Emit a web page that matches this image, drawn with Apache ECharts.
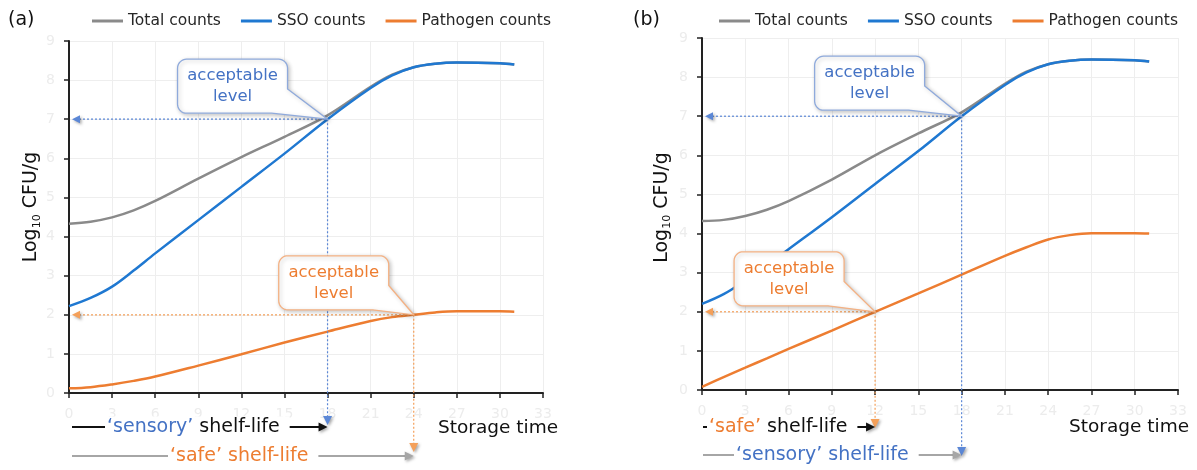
<!DOCTYPE html>
<html><head><meta charset="utf-8">
<script src="https://cdn.jsdelivr.net/npm/echarts@6/dist/echarts.min.js"></script>
<style>html,body{margin:0;padding:0;background:#fff}#c{width:1197px;height:470px}</style>
</head><body><div id="c"></div>
<script>
// ---- data ----
const days = [0, 1.5, 3, 4.5, 6, 9, 12, 15, 18, 21, 22.5, 24, 25.5, 27, 30, 31];
const totalA    = [4.33, 4.38, 4.49, 4.67, 4.91, 5.48, 6.03, 6.55, 7.10, 7.83, 8.14, 8.33, 8.42, 8.45, 8.43, 8.40];
const ssoA      = [2.22, 2.43, 2.72, 3.13, 3.57, 4.42, 5.27, 6.12, 7.00, 7.80, 8.12, 8.33, 8.42, 8.45, 8.43, 8.40];
const pathogenA = [0.12, 0.15, 0.22, 0.31, 0.42, 0.70, 0.99, 1.29, 1.57, 1.84, 1.94, 2.00, 2.06, 2.09, 2.09, 2.08];
const totalB    = [4.32, 4.35, 4.45, 4.61, 4.83, 5.38, 6.00, 6.56, 7.10, 7.83, 8.14, 8.33, 8.42, 8.45, 8.43, 8.40];
const ssoB      = [2.20, 2.45, 2.80, 3.19, 3.60, 4.42, 5.27, 6.11, 7.00, 7.80, 8.12, 8.33, 8.42, 8.45, 8.43, 8.40];
const pathogenB = [0.08, 0.33, 0.57, 0.81, 1.05, 1.52, 2.00, 2.47, 2.95, 3.43, 3.65, 3.85, 3.96, 4.01, 4.01, 4.00];
const seriesNames = ['Total counts', 'SSO counts', 'Pathogen counts'];
// acceptable-level points [day, log10 CFU/g]
const sensoryA = [18, 7];
const safeA    = [24, 2];
const safeB    = [12, 2];
const sensoryB = [18, 7];
const xMin = 0, xMax = 33, xStep = 3;
const yMin = 0, yMax = 9, yStep = 1;

// ---- style ----
const FONT = "'DejaVu Sans', sans-serif";
const C_GRAY = '#8a8a8a', C_BLUE = '#1f78d1', C_ORANGE = '#ed7d31';
const T_BLUE = '#4472c4', T_ORANGE = '#ed7d31';
const D_BLUE = '#5b87d6', D_ORANGE = '#f4a05a';

const chart = echarts.init(document.getElementById('c'), null, {renderer: 'canvas'});
const zip = arr => days.map((d, i) => [d, arr[i]]);

function xAxis(g) {
  return {
    type: 'value', gridIndex: g, min: xMin, max: xMax, interval: xStep,
    axisLine: {show: true, lineStyle: {color: '#222', width: 2}},
    axisTick: {show: true, length: 5, lineStyle: {color: '#222', width: 1.5}},
    axisLabel: {color: '#ececec', fontSize: 14, margin: 14, fontFamily: FONT},
    splitLine: {show: true, lineStyle: {color: '#eeeeee', width: 1}}
  };
}
function yAxis(g, gap, shift) {
  return {
    type: 'value', gridIndex: g, min: yMin, max: yMax, interval: yStep,
    name: '{m|Log}{s|10}{m| CFU/g}', nameLocation: 'middle', nameGap: gap, nameRotate: 90,
    nameTextStyle: {
      padding: [0, 0, 0, shift],
      rich: {
        m: {fontSize: 19, color: '#111', fontFamily: FONT, lineHeight: 22},
        s: {fontSize: 11, color: '#111', fontFamily: FONT, verticalAlign: 'bottom', lineHeight: 11}
      }
    },
    axisLine: {show: true, lineStyle: {color: '#222', width: 2}},
    axisTick: {show: true, length: 5, lineStyle: {color: '#222', width: 1.5}},
    axisLabel: {color: '#ececec', fontSize: 14, margin: 14, fontFamily: FONT},
    splitLine: {show: true, lineStyle: {color: '#eeeeee', width: 1}}
  };
}
function line(name, data, color, g) {
  return {
    name, type: 'line', xAxisIndex: g, yAxisIndex: g, data: zip(data),
    smooth: 0.35, symbol: 'none', lineStyle: {color, width: 2.5}, itemStyle: {color},
    z: 5
  };
}
function legend(left) {
  return {
    left, top: 13, padding: 0, itemWidth: 31, itemHeight: 3, itemGap: 20, icon: 'rect',
    textStyle: {fontSize: 15.5, fontFamily: FONT, color: '#262626'},
    data: seriesNames
  };
}

chart.setOption({
  animation: false,
  backgroundColor: '#fff',
  legend: [legend(92), legend(719)],
  grid: [
    {left: 69, right: 654, top: 41, bottom: 77},
    {left: 702, right: 19, top: 38, bottom: 80}
  ],
  xAxis: [xAxis(0), xAxis(1)],
  yAxis: [yAxis(0, 26, 20), yAxis(1, 29, 13)],
  series: [
    line(seriesNames[0], totalA, C_GRAY, 0),
    line(seriesNames[1], ssoA, C_BLUE, 0),
    line(seriesNames[2], pathogenA, C_ORANGE, 0),
    line(seriesNames[0], totalB, C_GRAY, 1),
    line(seriesNames[1], ssoB, C_BLUE, 1),
    line(seriesNames[2], pathogenB, C_ORANGE, 1)
  ]
});

// ---- annotations, positioned through the chart's own scales ----
const px = (g, pt) => chart.convertToPixel({gridIndex: g}, pt);
const els = [];

function tri(points, color) {
  els.push({type: 'polygon', z: 60, shape: {points}, style: {fill: color, shadowBlur: 3, shadowColor: 'rgba(0,0,0,0.35)', shadowOffsetX: 1.5, shadowOffsetY: 1.5}});
}
function seg(x1, y1, x2, y2, color, width, dash) {
  const style = {stroke: color, lineWidth: width};
  if (dash) style.lineDash = dash;
  els.push({type: 'line', z: 50, shape: {x1, y1, x2, y2}, style});
}
function drops(g, pt, color, bottomY) {
  const P = px(g, pt), L = px(g, [xMin, pt[1]]);
  seg(L[0] + 10, P[1], P[0], P[1], color, 1.2, [2, 2]);
  tri([[L[0] + 3, P[1]], [L[0] + 11, P[1] - 4], [L[0] + 11, P[1] + 4]], color);
  seg(P[0], P[1], P[0], bottomY - 8, color, 1.2, [2, 2]);
  tri([[P[0], bottomY], [P[0] - 4.5, bottomY - 9], [P[0] + 4.5, bottomY - 9]], color);
}
function arc(pts, cx, cy, r, a0, a1) {
  const n = 8;
  for (let i = 0; i <= n; i++) {
    const a = (a0 + (a1 - a0) * i / n) * Math.PI / 180;
    pts.push([cx + r * Math.cos(a), cy + r * Math.sin(a)]);
  }
}
function callout(g, pt, textColor, border, dx, dy) {
  const P = px(g, pt);
  const w = 110, h = 54, r = 9;
  const x = P[0] - dx - w, y = P[1] - dy - h;
  const pts = [];
  arc(pts, x + r, y + r, r, 180, 270);
  arc(pts, x + w - r, y + r, r, 270, 360);
  pts.push([x + w, y + h * 0.55]);
  pts.push([P[0], P[1]]);
  pts.push([x + w - 16, y + h]);
  arc(pts, x + r, y + h - r, r, 90, 180);
  els.push({type: 'polygon', z: 70, shape: {points: pts}, style: {fill: '#fff', stroke: border, lineWidth: 1.3, shadowBlur: 4, shadowColor: 'rgba(0,0,0,0.22)', shadowOffsetX: 1.5, shadowOffsetY: 1.5}});
  els.push({type: 'text', z: 71, style: {text: 'acceptable\nlevel', x: x + w / 2, y: y + h / 2, align: 'center', verticalAlign: 'middle', fill: textColor, fontSize: 16.5, fontFamily: FONT, lineHeight: 21}});
}
function row(startX, tipX, y, lineColor, textX, richText, rich) {
  seg(startX, y, tipX - 7, y, lineColor, 2);
  tri([[tipX, y], [tipX - 9, y - 4.5], [tipX - 9, y + 4.5]], lineColor);
  els.push({type: 'text', z: 80, style: {text: richText, x: textX, y, align: 'left', verticalAlign: 'middle', rich, backgroundColor: '#fff', padding: [1, 10, 1, 2], fontSize: 19, fontFamily: FONT}});
}
const rich = {
  b: {fill: T_BLUE, fontSize: 19, fontFamily: FONT},
  o: {fill: T_ORANGE, fontSize: 19, fontFamily: FONT},
  k: {fill: '#111', fontSize: 19, fontFamily: FONT}
};

// panel (a)
const A0 = px(0, [xMin, yMin]);
drops(0, sensoryA, D_BLUE, A0[1] + 32);
drops(0, safeA, D_ORANGE, A0[1] + 59);
callout(0, sensoryA, T_BLUE, '#8faadc', 40, 6);
callout(0, safeA, T_ORANGE, '#f4b183', 25, 5);
row(A0[0] + 3, px(0, sensoryA)[0], A0[1] + 34, '#111', A0[0] + 36, '{b|‘sensory’}{k| shelf-life}', rich);
row(A0[0] + 3, px(0, safeA)[0], A0[1] + 63, '#a6a6a6', A0[0] + 99, '{o|‘safe’ shelf-life}', rich);

// panel (b)
const B0 = px(1, [xMin, yMin]);
drops(1, safeB, D_ORANGE, B0[1] + 38);
drops(1, sensoryB, D_BLUE, B0[1] + 66);
callout(1, sensoryB, T_BLUE, '#8faadc', 37, 6);
callout(1, safeB, T_ORANGE, '#f4b183', 31, 6);
row(B0[0] + 1, px(1, safeB)[0], B0[1] + 37, '#111', B0[0] + 5, '{o|‘safe’}{k| shelf-life}', rich);
row(B0[0] + 1, px(1, sensoryB)[0], B0[1] + 65, '#a6a6a6', B0[0] + 32, '{b|‘sensory’ shelf-life}', rich);

// panel labels & x titles
els.push({type: 'text', z: 90, style: {text: '(a)', x: 8, y: 20, verticalAlign: 'middle', fill: '#111', fontSize: 19, fontFamily: FONT}});
els.push({type: 'text', z: 90, style: {text: '(b)', x: 633, y: 20, verticalAlign: 'middle', fill: '#111', fontSize: 19, fontFamily: FONT}});
const AE = px(0, [xMax, yMin]), BE = px(1, [xMax, yMin]);
els.push({type: 'text', z: 90, style: {text: 'Storage time', x: AE[0] - 105, y: AE[1] + 35, verticalAlign: 'middle', fill: '#111', fontSize: 18.5, fontFamily: FONT}});
els.push({type: 'text', z: 90, style: {text: 'Storage time', x: BE[0] - 109, y: BE[1] + 37, verticalAlign: 'middle', fill: '#111', fontSize: 18.5, fontFamily: FONT}});

chart.setOption({graphic: {elements: els}});
</script>
</body></html>
